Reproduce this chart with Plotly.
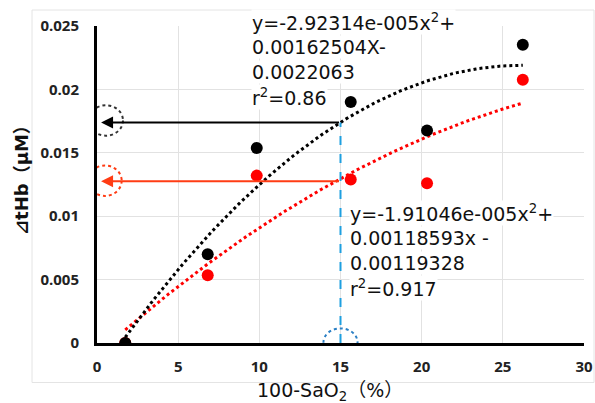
import numpy as np
import plotly.graph_objects as go

# ---- data ----
x_black = [1.74, 6.82, 9.84, 15.63, 20.33, 26.23]
y_black = [0.0, 0.0070, 0.01538, 0.0190, 0.01675, 0.02353]
x_red = [1.74, 6.82, 9.84, 15.63, 20.33, 26.23]
y_red = [0.0, 0.00534, 0.0132, 0.01289, 0.0126, 0.02077]

x_ticks = [0, 5, 10, 15, 20, 25, 30]
y_ticks = [0, 0.005, 0.01, 0.015, 0.02, 0.025]
y_ticktext = ["0", "0.005", "0.01", "0.015", "0.02", "0.025"]

read_x = 15
black_level = 0.01738
red_level = 0.01275

eq_black_lines = ["y=-2.92314e-005x<sup>2</sup>+", "0.00162504X-", "0.0022063", "r<sup>2</sup>=0.86"]
eq_red_lines = ["y=-1.91046e-005x<sup>2</sup>+", "0.00118593x -", "0.00119328", "r<sup>2</sup>=0.917"]

RED = "#ff0000"
ARROW_RED = "#ff3c14"
BLUE = "#1e9fe0"
FONT = "DejaVu Sans, Noto Sans CJK JP, sans-serif"

# plot-area geometry in pixels
L, R, T, B = 97, 584, 26, 343
PW, PH = R - L, B - T


def px(xp):
    return (xp - L) / PW


def py(yp):
    return (B - yp) / PH


fig = go.Figure()

# trendlines (2nd order polynomial fits, like the spreadsheet trendline)
for xs, ys, col in [(x_red, y_red, RED), (x_black, y_black, "black")]:
    c = np.polyfit(xs, ys, 2)
    xx = np.linspace(min(xs), max(xs), 120)
    fig.add_trace(go.Scatter(x=xx, y=np.polyval(c, xx), mode="lines",
                             line=dict(color=col, width=3, dash="dot"),
                             hoverinfo="skip", showlegend=False))

fig.add_trace(go.Scatter(x=x_red, y=y_red, mode="markers",
                         marker=dict(color=RED, size=12), showlegend=False))
fig.add_trace(go.Scatter(x=x_black, y=y_black, mode="markers",
                         marker=dict(color="black", size=12), showlegend=False))

# blue dashed vertical reading line
fig.add_shape(type="line", xref="x", yref="y", x0=read_x, x1=read_x, y0=0, y1=black_level,
              line=dict(color=BLUE, width=2, dash="dash"))

# arrows
fig.add_annotation(x=0.25, y=black_level, ax=read_x, ay=black_level, xref="x", yref="y",
                   axref="x", ayref="y", text="", showarrow=True, arrowhead=2,
                   arrowsize=1.2, arrowwidth=2, arrowcolor="black")
fig.add_annotation(x=0.25, y=red_level, ax=read_x, ay=red_level, xref="x", yref="y",
                   axref="x", ayref="y", text="", showarrow=True, arrowhead=2,
                   arrowsize=1.2, arrowwidth=2, arrowcolor=ARROW_RED)


# dotted circles
def circ(cx, cy, wx, hy, col):
    fig.add_shape(type="circle", xref="x", yref="y",
                  x0=cx - wx, x1=cx + wx, y0=cy - hy, y1=cy + hy,
                  line=dict(color=col, width=2, dash="dot"), layer="above")


circ(0.55, 0.01755, 1.05, 0.00120, "#333333")
circ(0.49, 0.01280, 1.03, 0.00120, ARROW_RED)
circ(15.0, 0.00005, 1.05, 0.00110, "#2a7fc4")


# equation texts, one line per annotation with white background
def eq_block(lines, left, first_center):
    for i, t in enumerate(lines):
        fig.add_annotation(x=px(left), y=py(first_center + 25 * i), xref="paper", yref="paper",
                           xanchor="left", yanchor="middle", align="left", showarrow=False,
                           text=t, bgcolor="white", borderpad=0,
                           font=dict(family=FONT, size=19, color="#111111"))


eq_block(eq_black_lines, 251, 22)
eq_block(eq_red_lines, 349, 213)

# axis titles
fig.add_annotation(x=px(22), y=py(176), xref="paper", yref="paper",
                   xanchor="center", yanchor="middle", textangle=-90, showarrow=False,
                   text="⊿tHb（μM）", font=dict(family=FONT, size=18, color="#111111", weight="bold"))
fig.add_annotation(x=px(330), y=py(391), xref="paper", yref="paper",
                   xanchor="center", yanchor="middle", showarrow=False,
                   text="100-SaO<sub>2</sub>（%）", font=dict(family=FONT, size=19, color="#111111"))

# outer chart frame
fig.add_shape(type="rect", xref="paper", yref="paper",
              x0=px(32), x1=px(594), y0=py(382.5), y1=py(10),
              line=dict(color="#e4e4e4", width=1), layer="below")

tickfont = dict(family="Open Sans, sans-serif", size=15, color="#222222", weight="bold")
fig.update_xaxes(range=[0, 30], tickvals=x_ticks, ticktext=[str(v) for v in x_ticks],
                 showgrid=True, gridcolor="#e2e2e2", gridwidth=1, zeroline=False,
                 showline=True, linecolor="black", linewidth=3, ticks="",
                 ticklabelstandoff=8, tickfont=tickfont, automargin=False)
fig.update_yaxes(range=[0, 0.025], tickvals=y_ticks, ticktext=y_ticktext,
                 showgrid=True, gridcolor="#e2e2e2", gridwidth=1, zeroline=False,
                 showline=True, linecolor="black", linewidth=3, ticks="",
                 ticklabelstandoff=12, tickfont=tickfont, automargin=False)

fig.update_layout(width=595, height=403, autosize=False,
                  margin=dict(l=L, r=595 - R, t=T, b=403 - B, autoexpand=False),
                  paper_bgcolor="white", plot_bgcolor="white", showlegend=False)

fig.write_html("out.html",
               config={"displayModeBar": False, "responsive": False},
               post_script="document.body.style.margin='0';document.body.style.overflow='hidden';")
